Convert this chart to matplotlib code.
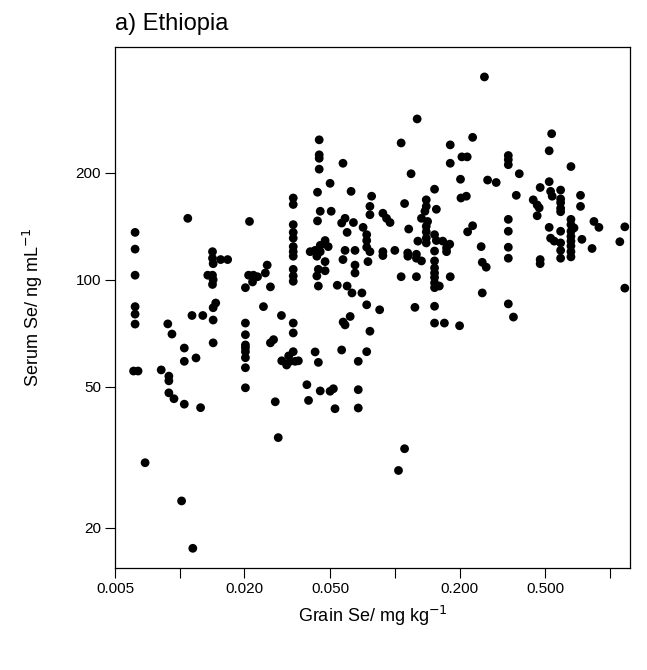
import matplotlib
matplotlib.use('Agg')
import matplotlib.pyplot as plt
import numpy as np

plt.rcParams['font.family'] = ['Liberation Sans', 'DejaVu Sans']

# grain Se (mg/kg) and serum Se (ng/mL)
grain_se = [
    0.0062, 0.0062, 0.0062, 0.0062, 0.0062, 0.0062, 0.0061, 0.0064,
    0.0069, 0.0082, 0.0088, 0.0092, 0.0089, 0.0089, 0.0089, 0.0094,
    0.0102, 0.0115, 0.0105, 0.0105, 0.0119, 0.0105, 0.0125, 0.0109,
    0.0114, 0.0128,
    0.0142, 0.0142, 0.0143, 0.0155, 0.0167, 0.0135, 0.0142, 0.0143,
    0.0142, 0.0147, 0.0143, 0.0143, 0.0143,
    0.0202, 0.0202, 0.0202, 0.0202, 0.0202, 0.0202, 0.0202, 0.0202, 0.0202,
    0.0211, 0.0209, 0.0220, 0.0230, 0.0218, 0.0250, 0.0255, 0.0264, 0.0245,
    0.0297, 0.0264, 0.0273, 0.0278, 0.0287,
    0.0337, 0.0337, 0.0337, 0.0337, 0.0337, 0.0337, 0.0337, 0.0337,
    0.0337, 0.0337, 0.0337, 0.0337, 0.0337, 0.0337,
    0.0298, 0.0314, 0.0326, 0.0344, 0.0356, 0.0321,
    0.0390, 0.0397, 0.0426, 0.0441, 0.0450, 0.0500, 0.0518, 0.0527,
    0.0566, 0.0676, 0.0676, 0.0740, 0.0676, 0.0766, 0.0575, 0.0620,
    0.0587, 0.0740, 0.0703, 0.0632, 0.0600, 0.0540,
    0.0445, 0.0445, 0.0445, 0.0445, 0.0437, 0.0450, 0.0506, 0.0437,
    0.0474, 0.0450, 0.0490, 0.0426, 0.0404, 0.0450,
    0.0434, 0.0474, 0.0441, 0.0474, 0.0434, 0.0441,
    0.0574, 0.0500, 0.0626, 0.0780, 0.0766, 0.0766, 0.0587, 0.0566,
    0.0642, 0.0600, 0.0712, 0.0740, 0.0740, 0.0740, 0.0766, 0.0587,
    0.0653, 0.0574, 0.0653, 0.0653, 0.0750,
    0.127, 0.107, 0.181, 0.230, 0.205, 0.217, 0.181, 0.119, 0.202,
    0.270, 0.296, 0.153, 0.111, 0.140, 0.140, 0.138, 0.156, 0.203,
    0.215, 0.088, 0.0915, 0.095, 0.133, 0.142, 0.140, 0.140, 0.116,
    0.218, 0.230, 0.128, 0.140, 0.140, 0.153, 0.156, 0.167, 0.180,
    0.174, 0.252, 0.088, 0.100, 0.1148, 0.126, 0.153, 0.174,
    0.088, 0.115, 0.126, 0.133,
    0.153, 0.153, 0.153, 0.153, 0.153, 0.153, 0.161,
    0.255, 0.266, 0.107, 0.126, 0.181, 0.255, 0.085, 0.124, 0.153,
    0.153, 0.170, 0.200,
    0.536, 0.522, 0.659, 0.337, 0.337, 0.337, 0.379, 0.522, 0.474,
    0.530, 0.590, 0.539, 0.590, 0.590, 0.590, 0.590, 0.367, 0.440,
    0.459, 0.469, 0.730, 0.730, 0.459, 0.337, 0.337, 0.337,
    0.659, 0.659, 0.681, 0.659, 0.659, 0.659, 0.659, 0.659,
    0.522, 0.530, 0.551, 0.590, 0.590, 0.590, 0.843, 0.889, 0.741,
    1.173, 1.112, 0.826,
    0.337, 0.474, 0.474, 0.590, 0.659, 1.173, 0.337, 0.356,
    0.111, 0.104, 0.261,
]
serum_se = [
    136, 122, 103, 84, 80, 75, 55.3, 55.3,
    30.5, 55.7, 75.1, 70.3, 53.5, 51.9, 48, 46.2,
    23.8, 17.5, 64.2, 58.9, 60.2, 44.6, 43.6, 149,
    79.3, 79.3,
    120, 115, 111, 114, 114, 103, 103, 100,
    97, 86, 83.4, 77, 66.4,
    95, 75.5, 70, 65.5, 64.3, 62.7, 60.3, 56.5, 49.6,
    146, 103, 103, 102, 98.6, 104.5, 110, 95.5, 84,
    79.3, 66.4, 67.8, 45.3, 35.9,
    170, 163, 143, 136, 131, 124, 120, 116.5,
    107, 102.5, 99, 75.5, 70.8, 62.7,
    59.1, 57.5, 58.9, 58.9, 59.1, 61,
    50.6, 45.7, 62.6, 58.5, 48.6, 48.5, 49.3, 43.3,
    63.4, 49, 43.5, 62.7, 58.9, 71.6, 76, 78.8,
    74.6, 85, 91.8, 91.8, 96, 96.5,
    248, 225, 220, 205, 176.5, 156, 156, 146.5,
    129, 125, 124, 121, 120, 120,
    116.5, 112.5, 107, 106, 102.5, 96,
    213, 187, 177.5, 172, 161, 152.5, 149, 144.5,
    145, 136, 140.5, 134, 129, 123.5, 120, 121,
    121, 114, 110, 104.5, 112.5,
    284, 243, 240, 252, 222, 222, 213, 199, 192,
    191, 188, 180, 164, 168, 161, 156, 158, 170,
    172, 154, 149, 145, 149, 146, 141.5, 136.5, 139,
    136.5, 142, 128.5, 131, 127, 134, 129, 128.5, 126,
    123, 124, 120, 121, 119, 118, 120.5, 120,
    117, 116.5, 115, 113,
    113, 108, 104.5, 101.5, 98, 95, 96,
    112, 108.5, 102, 102, 102, 91.8, 82.3, 83.6, 84.2,
    75.5, 75.5, 74.2,
    258, 231, 208.5, 224, 218, 211, 199, 189, 182,
    177.5, 179, 172, 169, 165, 159, 155.5, 173, 168,
    162.5, 159.5, 173, 161, 151.5, 148, 137, 123.5,
    148, 143, 140, 137, 132.5, 128.5, 124.5, 120,
    140.5, 131, 128.5, 137, 127, 121, 146, 140.5, 130,
    141, 128, 122.5,
    115, 114, 111, 115, 116, 94.7, 85.5, 78.5,
    33.4, 29, 373,
]

x_ticks = [0.005, 0.01, 0.02, 0.05, 0.1, 0.2, 0.5, 1.0]
x_labels = ['0.005', '', '0.020', '0.050', '', '0.200', '0.500', '']
y_ticks = [20, 50, 100, 200]
y_labels = ['20', '50', '100', '200']

fig = plt.figure(figsize=(6.47, 6.70), dpi=100)
ax = fig.add_axes([115 / 647, 1 - 568 / 670, (630 - 115) / 647, (568 - 47) / 670])

ax.scatter(grain_se, serum_se, s=40, c='black', edgecolors='none')

ax.set_xscale('log')
ax.set_yscale('log')
ax.set_xlim(0.00506, 1.24)
ax.set_ylim(15.4, 453)

ax.set_xticks(x_ticks)
ax.set_xticklabels(x_labels)
ax.set_yticks(y_ticks)
ax.set_yticklabels(y_labels)
ax.minorticks_off()
ax.tick_params(direction='out', length=7, width=0.8, labelsize=11, pad=3)
for sp in ax.spines.values():
    sp.set_linewidth(0.9)

ax.set_xlabel('Grain Se/ mg kg$^{-1}$', fontsize=13, labelpad=6)
ax.set_ylabel('Serum Se/ ng mL$^{-1}$', fontsize=13, labelpad=22)
ax.set_title('a) Ethiopia', loc='left', fontsize=17, pad=12)

fig.savefig('out.png', dpi=100)
